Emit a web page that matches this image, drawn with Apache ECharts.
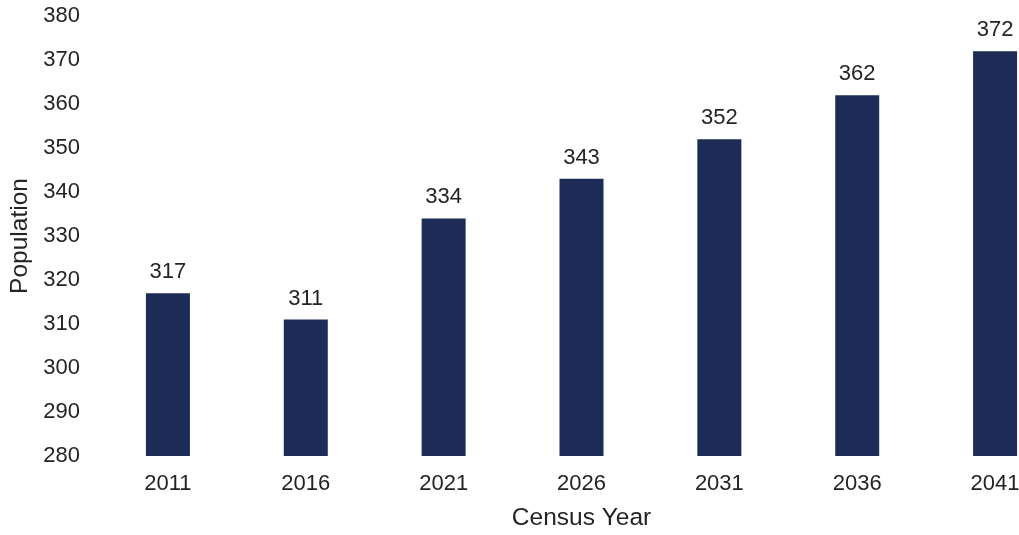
<!DOCTYPE html>
<html>
<head>
<meta charset="utf-8">
<script src="https://cdn.jsdelivr.net/npm/echarts@6/dist/echarts.min.js"></script>
<style>
  html, body { margin: 0; padding: 0; background: #ffffff; }
  #chart { width: 1019px; height: 535px; }
</style>
</head>
<body>
<div id="chart"></div>
<script>
// Census years and population counts
const years = ['2011', '2016', '2021', '2026', '2031', '2036', '2041'];
const population = [317, 311, 334, 343, 352, 362, 372];

// Value axis range
const yMin = 280;
const yMax = 380;
const yStep = 10;

const textColor = '#242424';
const fontFamily = 'Liberation Sans, Arial, sans-serif';

const chart = echarts.init(document.getElementById('chart'), null, { renderer: 'canvas' });

chart.setOption({
  backgroundColor: '#ffffff',
  animation: false,
  // plot area runs a little past the right edge, so the last bar sits close to it
  grid: { left: 99, width: 965, top: 16, bottom: 79, containLabel: false, outerBoundsMode: 'none' },
  xAxis: {
    type: 'category',
    data: years,
    boundaryGap: true,
    axisLine: { show: false },
    axisTick: { show: false },
    axisLabel: { color: textColor, fontSize: 22, fontFamily: fontFamily, margin: 17 },
    name: 'Census Year',
    nameLocation: 'middle',
    nameGap: 50,
    nameTextStyle: { color: textColor, fontSize: 24.5, fontFamily: fontFamily }
  },
  yAxis: {
    type: 'value',
    min: yMin,
    max: yMax,
    interval: yStep,
    axisLine: { show: false },
    axisTick: { show: false },
    splitLine: { show: false },
    axisLabel: { color: textColor, fontSize: 22, fontFamily: fontFamily, margin: 19 },
    name: 'Population',
    nameLocation: 'middle',
    nameGap: 66,
    nameTextStyle: { color: textColor, fontSize: 24.5, fontFamily: fontFamily }
  },
  series: [{
    type: 'bar',
    data: population,
    barWidth: 44,
    itemStyle: { color: '#1c2c56' },
    label: {
      show: true,
      position: 'top',
      distance: 10,
      color: textColor,
      fontSize: 22,
      fontFamily: fontFamily
    }
  }]
});
</script>
</body>
</html>
